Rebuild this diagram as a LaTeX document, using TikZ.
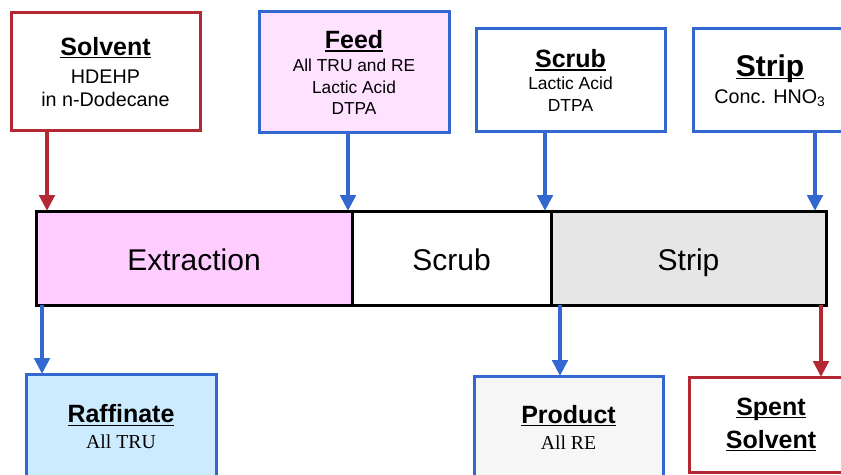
\documentclass[tikz,border=0pt]{standalone}
\usepackage{fontspec}
\setmainfont{Liberation Sans}
\newfontfamily\serifface{Liberation Serif}
\usetikzlibrary{arrows.meta,positioning}

\definecolor{solventred}{RGB}{180,40,52}
\definecolor{aqblue}{RGB}{51,104,208}
\definecolor{extrpink}{RGB}{255,204,255}
\definecolor{feedpink}{RGB}{255,226,255}
\definecolor{raffblue}{RGB}{204,235,255}
\definecolor{prodgray}{RGB}{246,246,246}
\definecolor{stripgray}{RGB}{230,230,230}

\newcommand{\uln}[1]{\setbox0\hbox{#1}\rlap{\rule[-2.4pt]{\wd0}{1.2pt}}\box0}
\newcommand{\boxtitle}[2][18.75]{{\fontsize{#1}{22}\selectfont\bfseries\uln{#2}}}

\tikzset{
    stream/.style={draw, line width=2.25pt, outer sep=0pt, inner sep=0pt,
                   align=center, font=\fontsize{14.8}{17.5}\selectfont},
    organic/.style={stream, draw=solventred},
    aqueous/.style={stream, draw=aqblue},
    stage/.style={draw, line width=2.25pt, outer sep=0pt, minimum height=70.5pt,
                  text height=18pt, text depth=0pt, font=\fontsize{22.5}{26}\selectfont},
    flow/.style={-{Triangle[length=12pt, width=11.5pt]}, line width=3.2pt},
    orgflow/.style={flow, solventred},
    aqflow/.style={flow, aqblue},
}

\begin{document}
\begin{tikzpicture}[x=0.75pt, y=-0.75pt]
    \path[use as bounding box] (0,0) rectangle (841,474);
    \clip (0,0) rectangle (841,474);

    % contactor stages
    \node[stage, fill=extrpink, minimum width=237pt] (extraction) at (194,258) {Extraction};
    \node[stage, minimum width=149.25pt, right=0pt of extraction] (scrubstage) {Scrub};
    \node[stage, fill=stripgray, minimum width=206.25pt, right=0pt of scrubstage] (stripstage) {Strip};

    % incoming streams
    \node[organic, minimum width=141.75pt, minimum height=88.5pt] (solvent) at (105.5,72)
        {\boxtitle{Solvent}\\[3.5pt] HDEHP\\ in n-Dodecane};
    \node[aqueous, fill=feedpink, font=\fontsize{13}{16.2}\selectfont,
          minimum width=142.5pt, minimum height=90.75pt] (feed) at (354,72.5)
        {\boxtitle{Feed}\\[1pt] All TRU and RE\\ Lactic Acid\\ DTPA};
    \node[aqueous, font=\fontsize{13.1}{16}\selectfont,
          minimum width=141.75pt, minimum height=77.25pt] (scrubin) at (570.5,80.5)
        {\boxtitle{Scrub}\\[0.5pt] Lactic Acid\\ DTPA};
    \node[aqueous, minimum width=115.5pt, minimum height=77.25pt] (stripin) at (770,80.5)
        {\boxtitle[22.5]{Strip}\\[2.75pt] Conc. HNO\textsubscript{3}};

    % outgoing streams
    \node[aqueous, fill=raffblue, minimum width=142.5pt, minimum height=79.5pt] (raffinate) at (121,427)
        {\boxtitle{Raffinate}\\[2pt] {\serifface All TRU}};
    \node[aqueous, fill=prodgray, minimum width=141.75pt, minimum height=76.5pt] (product) at (568.5,427)
        {\boxtitle{Product}\\[2pt] {\serifface All RE}};
    \node[organic, minimum width=123pt, minimum height=71.25pt] (spent) at (771,424.5)
        {\boxtitle{Spent}\\[7.25pt] \boxtitle{Solvent}};

    \coordinate (solventin) at ([xshift=8.25pt]extraction.north west);
    \coordinate (feedin) at ([xshift=-3pt]extraction.north east);
    \coordinate (scrubinlet) at ([xshift=-4.5pt]scrubstage.north east);
    \coordinate (stripinlet) at ([xshift=-8.25pt]stripstage.north east);
    \coordinate (raffout) at ([xshift=4.5pt]extraction.south west);
    \coordinate (prodout) at ([xshift=6.75pt]stripstage.south west);
    \coordinate (spentout) at ([xshift=-3.75pt]stripstage.south east);

    \draw[orgflow] (solvent.south -| solventin) -- (solventin);
    \draw[aqflow] (feed.south -| feedin) -- (feedin);
    \draw[aqflow] (scrubin.south -| scrubinlet) -- (scrubinlet);
    \draw[aqflow] (stripin.south -| stripinlet) -- (stripinlet);
    \draw[aqflow] (raffout) -- (raffout |- raffinate.north);
    \draw[aqflow] (prodout) -- (prodout |- product.north);
    \draw[orgflow] (spentout) -- (spentout |- spent.north);
\end{tikzpicture}
\end{document}
